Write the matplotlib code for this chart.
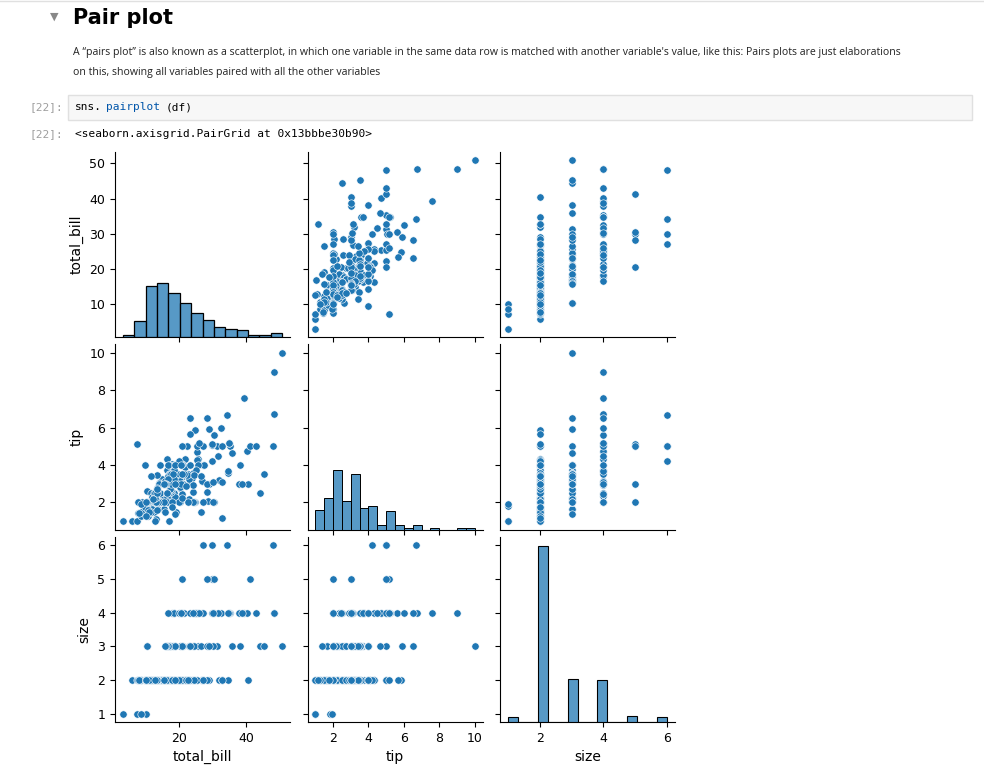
import pandas as pd
import matplotlib.pyplot as plt
import seaborn as sns

total_bill = [16.99,10.34,21.01,23.68,24.59,25.29,8.77,26.88,15.04,14.78,10.27,35.26,15.42,18.43,14.83,21.58,10.33,16.29,16.97,20.65,17.92,20.29,15.77,39.42,19.82,17.81,13.37,12.69,21.70,19.65,9.55,18.35,15.06,20.69,17.78,24.06,16.31,16.93,18.69,31.27,16.04,17.46,13.94,9.68,30.40,18.29,22.23,32.40,28.55,18.04,12.54,10.29,34.81,9.94,25.56,19.49,38.01,26.41,11.24,48.27,20.29,13.81,11.02,18.29,17.59,20.08,16.45,3.07,20.23,15.01,12.02,17.07,26.86,25.28,14.73,10.51,17.92,27.20,22.76,17.29,19.44,16.66,10.07,32.68,15.98,34.83,13.03,18.28,24.71,21.16,28.97,22.49,5.75,16.32,22.75,40.17,27.28,12.03,21.01,12.46,11.35,15.38,44.30,22.42,20.92,15.36,20.49,25.21,18.24,14.31,14.00,7.25,38.07,23.95,25.71,17.31,29.93,10.65,12.43,24.08,11.69,13.42,14.26,15.95,12.48,29.80,8.52,14.52,11.38,22.82,19.08,20.27,11.17,12.26,18.26,8.51,10.33,14.15,16.00,13.16,17.47,34.30,41.19,27.05,16.43,8.35,18.64,11.87,9.78,7.51,14.07,13.13,17.26,24.55,19.77,29.85,48.17,25.00,13.39,16.49,21.50,12.66,16.21,13.81,17.51,24.52,20.76,31.71,10.59,10.63,50.81,15.81,7.25,31.85,16.82,32.90,17.89,14.48,9.60,34.63,34.65,23.33,45.35,23.17,40.55,20.69,20.90,30.46,18.15,23.10,15.69,19.81,28.44,15.48,16.58,7.56,10.34,43.11,13.00,13.51,18.71,12.74,13.00,16.40,20.53,16.47,26.59,38.73,24.27,12.76,30.06,25.89,48.33,13.27,28.17,12.90,28.15,11.59,7.74,30.14,12.16,13.42,8.58,15.98,13.42,16.27,10.09,20.45,13.28,22.12,24.01,15.69,11.61,10.77,15.53,10.07,12.60,32.83,35.83,29.03,27.18,22.67,17.82,18.78]
tip = [1.01,1.66,3.50,3.31,3.61,4.71,2.00,3.12,1.96,3.23,1.71,5.00,1.57,3.00,3.02,3.92,1.67,3.71,3.50,3.35,4.08,2.75,2.23,7.58,3.18,2.34,2.00,2.00,4.30,3.00,1.45,2.50,3.00,2.45,3.27,3.60,2.00,3.07,2.31,5.00,2.24,2.54,3.06,1.32,5.60,3.00,5.00,6.00,2.05,3.00,2.50,2.60,5.20,1.56,4.34,3.51,3.00,1.50,1.76,6.73,3.21,2.00,1.98,3.76,2.64,3.15,2.47,1.00,2.01,2.09,1.97,3.00,3.14,5.00,2.20,1.25,3.08,4.00,3.00,2.71,3.00,3.40,1.83,5.00,2.03,5.17,2.00,4.00,5.85,3.00,3.00,3.50,1.00,4.30,3.25,4.73,4.00,1.50,3.00,1.50,2.50,3.00,2.50,3.48,4.08,1.64,4.06,4.29,3.76,4.00,3.00,1.00,4.00,2.55,4.00,3.50,5.07,1.50,1.80,2.92,2.31,1.68,2.50,2.00,2.52,4.20,1.48,2.00,2.00,2.18,1.50,2.83,1.50,2.00,3.25,1.25,2.00,2.00,2.00,2.75,3.50,6.70,5.00,5.00,2.30,1.50,1.36,1.63,1.73,2.00,2.50,2.00,2.74,2.00,2.00,5.14,5.00,3.75,2.61,2.00,3.50,2.50,2.00,2.00,3.00,3.48,2.24,4.50,1.61,2.00,10.00,3.16,5.15,3.18,4.00,3.11,2.00,2.00,4.00,3.55,3.68,5.65,3.50,6.50,3.00,5.00,3.50,2.00,3.50,4.00,1.50,4.19,2.56,2.02,4.00,1.44,2.00,5.00,2.00,2.00,4.00,2.01,2.00,2.50,4.00,3.23,3.41,3.00,2.03,2.23,2.00,5.16,9.00,2.50,6.50,1.10,3.00,1.50,1.44,3.09,2.20,3.48,1.92,3.00,1.58,2.50,2.00,3.00,2.72,2.88,2.00,3.00,3.39,1.47,3.00,1.25,1.00,1.17,4.67,5.92,2.00,2.00,1.75,3.00]
size = [2,3,3,2,4,4,2,4,2,2,2,4,2,4,2,2,3,3,3,3,2,2,2,4,2,4,2,2,2,2,2,4,2,4,2,3,3,3,3,3,3,2,2,2,4,2,2,4,3,2,2,2,4,2,4,2,4,2,2,4,2,2,2,4,3,3,2,1,2,2,2,3,2,2,2,2,2,4,2,2,2,2,1,2,2,4,2,2,2,2,2,2,2,2,2,4,2,2,2,2,2,2,3,2,2,2,2,2,2,2,2,1,3,2,3,2,4,2,2,4,2,2,2,2,2,6,2,2,2,3,2,2,2,2,2,2,2,2,2,2,2,6,5,6,2,2,3,2,2,2,2,2,3,4,4,5,6,4,2,4,4,2,3,2,2,3,2,4,2,2,3,2,2,2,2,2,2,2,2,2,4,2,3,4,2,5,3,5,3,3,2,2,2,2,2,2,2,4,2,2,3,2,2,2,4,3,3,4,2,2,3,4,4,2,3,2,5,2,2,4,2,2,1,3,2,2,2,4,2,2,4,3,2,2,2,2,2,2,3,3,2,2,2,2]
tip_ticks = [2, 4, 6, 8, 10]

n = min(len(total_bill), len(tip), len(size))
df = pd.DataFrame({"total_bill": total_bill[:n], "tip": tip[:n], "size": size[:n]})

W, H = 984, 772
g = sns.pairplot(df, plot_kws={"s": 28})
fig = g.figure
fig.set_size_inches(W / 100, H / 100)
fig.set_dpi(100)
fig.subplots_adjust(left=115 / W, right=675 / W, top=1 - 152 / H, bottom=1 - 722 / H,
                    wspace=0.1, hspace=0.04)
for ax in g.axes.flat:
    ax.tick_params(labelsize=9)
    ax.xaxis.label.set_size(10)
    ax.yaxis.label.set_size(10)
g.axes[2, 1].set_xticks(tip_ticks)
g.axes[2, 1].set_xticklabels([str(t) for t in tip_ticks])

# notebook chrome
fig.add_artist(plt.Line2D([0, 1], [1 - 1 / H, 1 - 1 / H], color="#e0e0e0", lw=1))
fig.text(50 / W, 1 - 17 / H, "\u25BC", fontsize=8, color="#888888", va="center")
fig.text(73 / W, 1 - 18 / H, "Pair plot", fontsize=15, fontweight="bold", va="center")
para_font = dict(fontsize=7.6, va="center", color="#222222", family="Open Sans")
fig.text(73 / W, 1 - 52 / H, "A \u201cpairs plot\u201d is also known as a scatterplot, in which one variable in the same data row is matched with another variable's value, like this: Pairs plots are just elaborations",
         **para_font)
fig.text(73 / W, 1 - 72 / H, "on this, showing all variables paired with all the other variables", **para_font)
fig.add_artist(plt.Rectangle((68 / W, 1 - 120 / H), 904 / W, 25 / H, facecolor="#f7f7f7",
                             edgecolor="#e0e0e0", lw=1, transform=fig.transFigure))
mono = dict(fontsize=8, family="DejaVu Sans Mono", va="center")
fig.text(30 / W, 1 - 107 / H, "[22]:", color="#9e9e9e", **mono)
fig.text(75 / W, 1 - 107 / H, "sns.", **mono)
fig.text(75 / W + 0.031, 1 - 107 / H, "pairplot", color="#0055aa", **mono)
fig.text(75 / W + 0.092, 1 - 107 / H, "(df)", **mono)
fig.text(30 / W, 1 - 134 / H, "[22]:", color="#9e9e9e", **mono)
fig.text(75 / W, 1 - 134 / H, "<seaborn.axisgrid.PairGrid at 0x13bbbe30b90>", **mono)

fig.savefig("out.png", dpi=100)
